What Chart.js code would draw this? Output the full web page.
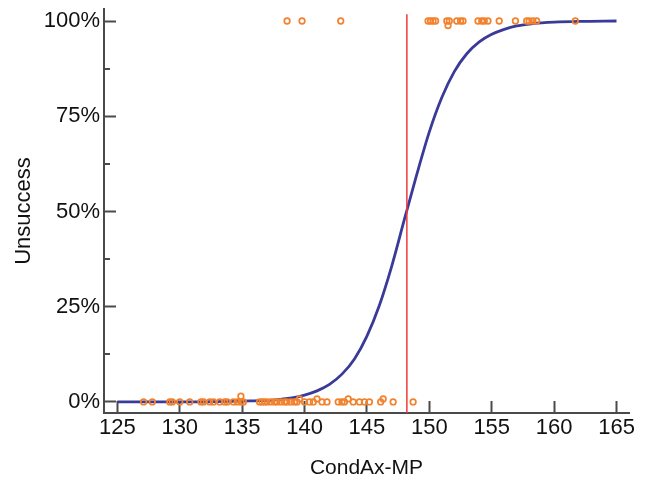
<!DOCTYPE html>
<html>
<head>
<meta charset="utf-8">
<script src="https://cdn.jsdelivr.net/npm/chart.js@4.4.0/dist/chart.umd.min.js"></script>
<style>
  body { margin: 0; background: #fff; }
</style>
</head>
<body>
<canvas id="chart" width="649" height="486"></canvas>
<script>
// fitted curve (x, % unsuccess)
var curveX = [125, 127, 129, 131, 133, 135, 136, 137, 138, 139, 140, 141, 142, 143, 144, 145, 146, 147, 148, 149, 150, 151, 152, 153, 154, 155, 156, 157, 158, 159, 160, 162, 165];
var curveY = [0, 0, 0, 0, 0.1, 0.2, 0.3, 0.4, 0.7, 1.1, 1.8, 2.9, 4.6, 7.3, 11.3, 17.3, 25.4, 35.8, 47.9, 59.8, 70.9, 79.9, 86.7, 91.4, 94.5, 96.5, 97.8, 98.7, 99.2, 99.5, 99.7, 99.9, 100];

// observed cases at 100% (unsuccess)
var topX = [138.6, 139.8, 142.9, 149.9, 150.1, 150.3, 150.5, 151.4, 151.5, 151.6, 152.2, 152.5, 152.7, 153.9, 154.2, 154.4, 154.7, 155.6, 156.9, 157.8, 158.0, 158.3, 158.6, 161.7];
var topY = [100, 100, 100, 100, 100, 100, 100, 100, 98.8, 100, 100, 100, 100, 100, 100, 100, 100, 100, 100, 100, 100, 100, 100, 100];

// observed cases at 0% (success)
var bottomX = [127.1, 127.8, 129.2, 129.4, 130.0, 130.8, 131.7, 131.9, 132.4, 132.7, 133.2, 133.6, 133.8, 134.3, 134.6, 134.9, 134.9, 135.1,
  136.4, 136.6, 136.8, 137.0, 137.3, 137.6, 137.8, 138.1, 138.4, 138.6, 138.9, 139.2, 139.4, 139.6, 140.0, 140.4, 140.7, 141.0,
  141.4, 141.8, 142.7, 143.0, 143.2, 143.5, 143.9, 144.4, 144.8, 145.2, 146.1, 146.3, 147.1, 148.7];
var bottomY = [0, 0, 0, 0, 0, 0, 0, 0, 0, 0, 0, 0, 0, 0, 0, 1.5, 0, 0,
  0, 0, 0, 0, 0, 0, 0, 0, 0, 0, 0, 0, 0, 0.8, 0, 0, 0, 0.8,
  0, 0, 0, 0, 0, 0.8, 0, 0, 0, 0, 0, 0.8, 0, 0];

// cut-off
var cutX = 148.2;
var cutY = [-2.9, 101.8];

var xTicks = [125, 130, 135, 140, 145, 150, 155, 160, 165];
var yTicks = [0, 25, 50, 75, 100];
var yMinor = [12.5, 37.5, 62.5, 87.5];

function pts(xs, ys) {
  return xs.map(function (x, i) { return { x: x, y: ys[i] }; });
}

var axisColor = '#4a4a4a';
var fontFamily = 'Liberation Sans, Arial, sans-serif';

var minorTicks = {
  id: 'minorTicks',
  afterDraw: function (chart) {
    var ctx = chart.ctx;
    var y = chart.scales.y;
    ctx.save();
    ctx.strokeStyle = axisColor;
    ctx.lineWidth = 2;
    yMinor.forEach(function (v) {
      var py = Math.round(y.getPixelForValue(v));
      ctx.beginPath();
      ctx.moveTo(y.right, py);
      ctx.lineTo(y.right + 6, py);
      ctx.stroke();
    });
    ctx.restore();
  }
};

var ctx = document.getElementById('chart');
var chart = new Chart(ctx, {
  type: 'scatter',
  data: {
    datasets: [
      {
        data: pts(topX, topY),
        pointStyle: 'circle',
        pointRadius: 2.8,
        borderColor: '#f2822e',
        borderWidth: 1.7,
        backgroundColor: 'rgba(255,255,255,0)',
        order: 0
      },
      {
        data: pts(bottomX, bottomY),
        pointStyle: 'circle',
        pointRadius: 2.8,
        borderColor: '#f2822e',
        borderWidth: 1.7,
        backgroundColor: 'rgba(255,255,255,0)',
        order: 0
      },
      {
        data: pts(curveX, curveY),
        showLine: true,
        pointRadius: 0,
        borderColor: '#3a3a98',
        borderWidth: 2.8,
        cubicInterpolationMode: 'monotone',
        order: 2
      },
      {
        data: [{ x: cutX, y: cutY[0] }, { x: cutX, y: cutY[1] }],
        showLine: true,
        pointRadius: 0,
        borderColor: '#f03a3a',
        borderWidth: 1.5,
        order: 1
      }
    ]
  },
  options: {
    responsive: false,
    animation: false,
    layout: { padding: { top: 9, right: 20, left: 0, bottom: 0 } },
    plugins: {
      legend: { display: false },
      tooltip: { enabled: false }
    },
    scales: {
      x: {
        type: 'linear',
        min: 123.93,
        max: 166,
        afterBuildTicks: function (s) { s.ticks = xTicks.map(function (v) { return { value: v }; }); },
        afterFit: function (s) { s.height = 73; s.paddingLeft = 0; s.paddingRight = 0; },
        grid: { drawOnChartArea: false, tickLength: -12, tickWidth: 2, tickColor: axisColor },
        border: { color: axisColor, width: 2 },
        ticks: {
          padding: 14,
          maxRotation: 0,
          autoSkip: false,
          color: '#111',
          font: { family: fontFamily, size: 22 }
        },
        title: {
          display: true,
          text: 'CondAx-MP',
          color: '#111',
          padding: { top: 0, bottom: 5 },
          font: { family: fontFamily, size: 21 }
        }
      },
      y: {
        type: 'linear',
        min: -2.9,
        max: 103.15,
        afterBuildTicks: function (s) { s.ticks = yTicks.map(function (v) { return { value: v }; }); },
        afterFit: function (s) { s.width = 104; s.paddingTop = 0; s.paddingBottom = 0; },
        grid: { drawOnChartArea: false, tickLength: -12, tickWidth: 2, tickColor: axisColor },
        border: { color: axisColor, width: 2 },
        ticks: {
          padding: 16,
          color: '#111',
          font: { family: fontFamily, size: 22 },
          callback: function (v) { return v + '%'; }
        },
        title: {
          display: true,
          text: 'Unsuccess',
          color: '#111',
          padding: { top: 11, bottom: 0 },
          font: { family: fontFamily, size: 22 }
        }
      }
    }
  },
  plugins: [minorTicks]
});
</script>
</body>
</html>
